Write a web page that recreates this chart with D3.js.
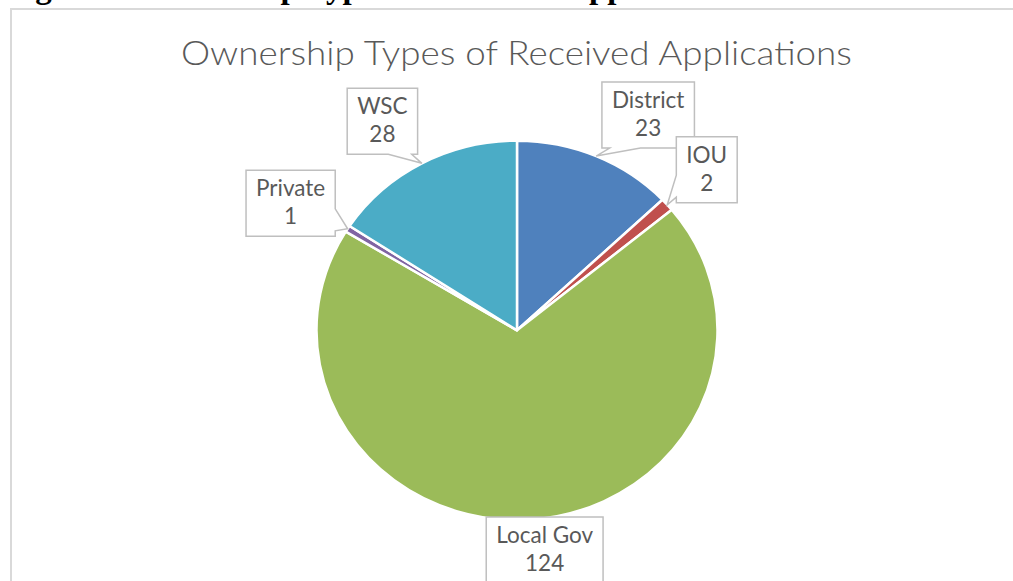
<!DOCTYPE html>
<html><head><meta charset="utf-8">
<script src="https://cdn.jsdelivr.net/npm/d3@7"></script>
<style>html,body{margin:0;padding:0;background:#fff;}svg{display:block;}</style>
</head><body>
<svg id="chart" width="1013" height="581"></svg>
<script>
const categories = ["District", "IOU", "Local Gov", "Private", "WSC"];
const values = [23, 2, 124, 1, 28];
const colors = ["#4f81bd", "#c0504d", "#9bbb59", "#8064a2", "#4bacc6"];
const chartTitle = "Ownership Types of Received Applications";
const figureCaption = "Figure 4: Ownership Types of Received Applications";

// layout (label box offsets from slice edge point, tail side & fractions)
const labelOffsets = [[52, -41], [39.5, -35], [13.5, 30.5], [-57, -25.5], [-39.5, -42]];
const tailSides = ["bottom", "left", "none", "right", "bottom"];
const tailFrac = [[1/12, 5/12], [7/12, 11/12], [0, 0], [7/12, 11/12], [7/12, 11/12]];

const W = 1013, H = 581;
const cx = 517, cy = 330.3, R = 200.5, ky = 0.946;
const svg = d3.select("#chart");

svg.append("rect").attr("width", W).attr("height", H).attr("fill", "#fff");

// caption above the frame (only its descenders are visible, as in the reference)
svg.append("text").attr("x", 6).attr("y", -2)
  .attr("font-family", "Liberation Serif, serif").attr("font-weight", "bold")
  .attr("font-size", 33).attr("fill", "#000").text(figureCaption);

// chart frame
svg.append("rect").attr("x", 11).attr("y", 9).attr("width", W + 20).attr("height", H + 40)
  .attr("fill", "none").attr("stroke", "#d9d9d9").attr("stroke-width", 2);

svg.append("text").attr("x", 516.5).attr("y", 65).attr("text-anchor", "middle")
  .attr("font-family", "Lato, sans-serif").attr("font-weight", 300)
  .attr("font-size", 33).attr("fill", "#595959")
  .attr("textLength", 671).attr("lengthAdjust", "spacingAndGlyphs")
  .text(chartTitle);

const data = categories.map((c, i) => ({ cat: c, value: values[i], color: colors[i], i }));
const pie = d3.pie().sort(null).value(d => d.value);
const arcs = pie(data);
const arc = d3.arc().innerRadius(0).outerRadius(R);
const edge = d3.arc().innerRadius(R).outerRadius(R);

const g = svg.append("g").attr("transform", `translate(${cx},${cy}) scale(1,${ky})`);
g.selectAll("path").data(arcs).join("path")
  .attr("d", arc).attr("fill", d => d.data.color)
  .attr("stroke", "#fff").attr("stroke-width", 2.5)
  .attr("vector-effect", "non-scaling-stroke").attr("stroke-linejoin", "round");

function calloutPath(x0, y0, w, h, side, f1, f2, tx, ty) {
  const x1 = x0 + w, y1 = y0 + h;
  let p = `M${x0},${y0}`;
  if (side === "top") p += `L${x0 + w * f1},${y0}L${tx},${ty}L${x0 + w * f2},${y0}`;
  p += `L${x1},${y0}`;
  if (side === "right") p += `L${x1},${y0 + h * f1}L${tx},${ty}L${x1},${y0 + h * f2}`;
  p += `L${x1},${y1}`;
  if (side === "bottom") p += `L${x0 + w * f2},${y1}L${tx},${ty}L${x0 + w * f1},${y1}`;
  p += `L${x0},${y1}`;
  if (side === "left") p += `L${x0},${y0 + h * f2}L${tx},${ty}L${x0},${y0 + h * f1}`;
  return p + "Z";
}

const labels = svg.append("g");
arcs.forEach((d, i) => {
  const c = edge.centroid(d);
  const tx = cx + c[0], ty = cy + c[1] * ky;
  const bx = tx + labelOffsets[i][0], by = ty + labelOffsets[i][1];
  const lg = labels.append("g");
  const path = lg.append("path");
  const t1 = lg.append("text").attr("x", bx).attr("y", by - 7).attr("text-anchor", "middle")
    .attr("font-family", "Lato, sans-serif").attr("font-size", 22.5).attr("fill", "#595959")
    .text(d.data.cat);
  const t2 = lg.append("text").attr("x", bx).attr("y", by + 21).attr("text-anchor", "middle")
    .attr("font-family", "Lato, sans-serif").attr("font-size", 22.5).attr("fill", "#595959")
    .text(d.data.value);
  const tw = Math.max(t1.node().getComputedTextLength(), t2.node().getComputedTextLength());
  const w = tw + 20, h = 66;
  path.attr("d", calloutPath(bx - w / 2, by - h / 2, w, h, tailSides[i], tailFrac[i][0], tailFrac[i][1], tx, ty))
    .attr("fill", "#fff").attr("stroke", "#bfbfbf").attr("stroke-width", 1.5);
});
</script>
</body></html>
